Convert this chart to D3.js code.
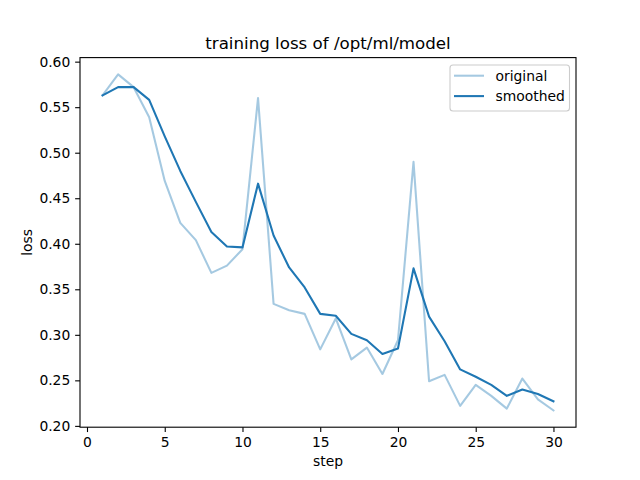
<!DOCTYPE html>
<html>
<head>
<meta charset="utf-8">
<script src="https://cdn.jsdelivr.net/npm/d3@7"></script>
<style>
  html, body { margin: 0; padding: 0; background: #fff; }
  svg { display: block; }
  text { font-family: "DejaVu Sans", sans-serif; fill: #000; }
</style>
</head>
<body>
<svg id="chart" width="640" height="480"></svg>
<script>
const steps = d3.range(1, 31);
const original = [0.563, 0.586, 0.572, 0.539, 0.469, 0.423, 0.404, 0.368, 0.376, 0.394,
                  0.560, 0.334, 0.327, 0.323, 0.284, 0.318, 0.273, 0.286, 0.257, 0.294,
                  0.490, 0.249, 0.256, 0.222, 0.245, 0.233, 0.219, 0.252, 0.229, 0.217];
const smoothed = [0.563, 0.572, 0.572, 0.558, 0.518, 0.480, 0.446, 0.413, 0.397, 0.396,
                  0.466, 0.409, 0.374, 0.352, 0.323, 0.321, 0.301, 0.294, 0.279, 0.285,
                  0.373, 0.320, 0.293, 0.262, 0.254, 0.245, 0.233, 0.240, 0.235, 0.227];
const xTicks = [0, 5, 10, 15, 20, 25, 30];
const yTicks = [0.20, 0.25, 0.30, 0.35, 0.40, 0.45, 0.50, 0.55, 0.60];
const seriesNames = ["original", "smoothed"];
const titleText = "training loss of /opt/ml/model";

const W = 640, H = 480;
const pLeft = 80, pRight = 576, pTop = 57.6, pBottom = 427.2;
const svg = d3.select("#chart");

const xmin = d3.min(steps), xmax = d3.max(steps);
const xm = (xmax - xmin) * 0.05;
const allY = original.concat(smoothed);
const ymin = d3.min(allY), ymax = d3.max(allY);
const ym = (ymax - ymin) * 0.05;

const x = d3.scaleLinear().domain([xmin - xm, xmax + xm]).range([pLeft, pRight]);
const y = d3.scaleLinear().domain([ymin - ym, ymax + ym]).range([pBottom, pTop]);

const fs = 13.89;
const tickLen = 4.86;

const xAxis = d3.axisBottom(x).tickValues(xTicks).tickFormat(d3.format("d")).tickSizeInner(tickLen).tickSizeOuter(0).tickPadding(4.86);
const yAxis = d3.axisLeft(y).tickValues(yTicks).tickFormat(d3.format(".2f")).tickSizeInner(tickLen).tickSizeOuter(0).tickPadding(4.86);

const gx = svg.append("g").attr("transform", `translate(0,${pBottom})`).call(xAxis);
const gy = svg.append("g").attr("transform", `translate(${pLeft},0)`).call(yAxis);
[gx, gy].forEach(g => {
  g.select(".domain").remove();
  g.selectAll(".tick line").attr("stroke", "#000").attr("stroke-width", 1.1);
  g.selectAll(".tick text").attr("font-size", fs).attr("font-family", "DejaVu Sans").attr("fill", "#000");
});

const line = vals => d3.line().x((d, i) => x(steps[i])).y(d => y(d))(vals);
svg.append("path").attr("d", line(original)).attr("fill", "none")
  .attr("stroke", "#1f77b4").attr("stroke-opacity", 0.4).attr("stroke-width", 2.08)
  .attr("stroke-linejoin", "round").attr("stroke-linecap", "square");
svg.append("path").attr("d", line(smoothed)).attr("fill", "none")
  .attr("stroke", "#1f77b4").attr("stroke-width", 2.08)
  .attr("stroke-linejoin", "round").attr("stroke-linecap", "square");

svg.append("rect").attr("x", pLeft).attr("y", pTop).attr("width", pRight - pLeft).attr("height", pBottom - pTop)
  .attr("fill", "none").attr("stroke", "#000").attr("stroke-width", 1.1);

svg.append("text").attr("x", (pLeft + pRight) / 2).attr("y", 49).attr("text-anchor", "middle")
  .attr("font-size", 16.67).text(titleText);
svg.append("text").attr("x", (pLeft + pRight) / 2).attr("y", 466).attr("text-anchor", "middle")
  .attr("font-size", fs).text("step");
svg.append("text").attr("transform", `translate(32,${(pTop + pBottom) / 2}) rotate(-90)`)
  .attr("text-anchor", "middle").attr("font-size", fs).text("loss");

const lg = svg.append("g");
lg.append("rect").attr("x", 450).attr("y", 65).attr("width", 119.5).attr("height", 46).attr("rx", 3)
  .attr("fill", "#fff").attr("fill-opacity", 0.8).attr("stroke", "#cccccc").attr("stroke-width", 1.1);
const legendOpacity = [0.4, 1];
seriesNames.forEach((n, i) => {
  const yy = 75.7 + i * 20.4;
  lg.append("line").attr("x1", 454).attr("x2", 484).attr("y1", yy).attr("y2", yy)
    .attr("stroke", "#1f77b4").attr("stroke-opacity", legendOpacity[i]).attr("stroke-width", 2.08);
  lg.append("text").attr("x", 495.5).attr("y", yy + 4.9).attr("font-size", fs).text(n);
});
</script>
</body>
</html>
